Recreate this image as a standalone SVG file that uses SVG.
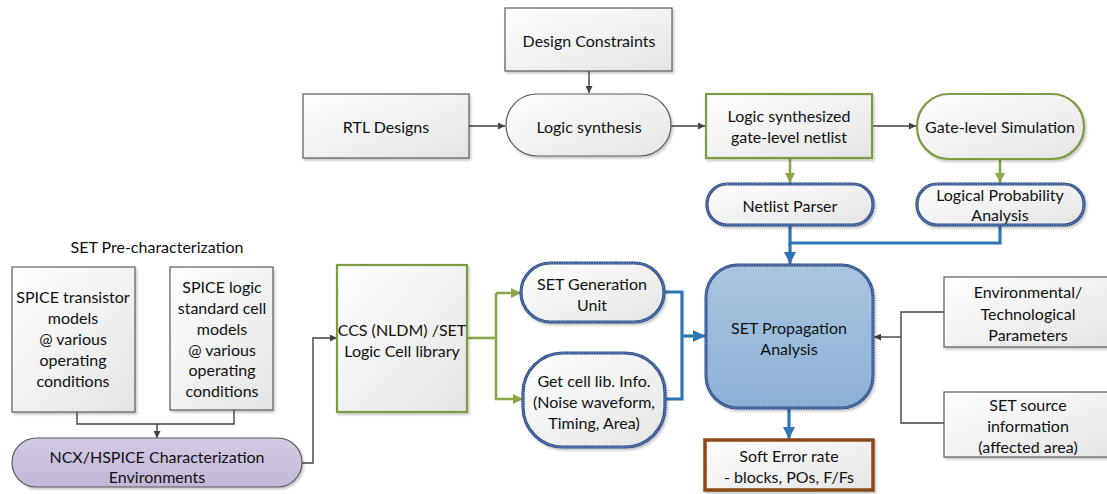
<svg xmlns="http://www.w3.org/2000/svg" width="1107" height="494" viewBox="0 0 1107 494">
  <defs>
    <linearGradient id="grayFill" x1="0" y1="0" x2="1" y2="1">
      <stop offset="0" stop-color="#ffffff"/>
      <stop offset="1" stop-color="#e4e4e4"/>
    </linearGradient>
    <linearGradient id="blueFill" x1="0" y1="0" x2="0" y2="1">
      <stop offset="0" stop-color="#a9c5e0"/>
      <stop offset="1" stop-color="#8cb1d6"/>
    </linearGradient>
    <linearGradient id="purpleFill" x1="0" y1="0" x2="0" y2="1">
      <stop offset="0" stop-color="#d3cae3"/>
      <stop offset="1" stop-color="#c3b7d8"/>
    </linearGradient>
    <filter id="shadow" x="-5%" y="-5%" width="115%" height="120%">
      <feDropShadow dx="1.5" dy="2" stdDeviation="1.2" flood-color="#000" flood-opacity="0.22"/>
    </filter>
    <marker id="arrGray" viewBox="0 0 10 10" refX="10" refY="5" markerWidth="7" markerHeight="7" markerUnits="userSpaceOnUse" orient="auto">
      <path d="M0,0 L10,5 L0,10 z" fill="#404040"/>
    </marker>
    <marker id="arrGreen" viewBox="0 0 10 10" refX="10" refY="5" markerWidth="10" markerHeight="10" markerUnits="userSpaceOnUse" orient="auto">
      <path d="M0,0 L10,5 L0,10 z" fill="#8aa84a"/>
    </marker>
    <marker id="arrBlue" viewBox="0 0 10 10" refX="10" refY="5" markerWidth="12" markerHeight="12" markerUnits="userSpaceOnUse" orient="auto">
      <path d="M0,0 L10,5 L0,10 z" fill="#2e75b6"/>
    </marker>
  </defs>
  <style>
    text { font-family: Lato, "Liberation Sans", sans-serif; font-size: 16px; fill: #111111; text-anchor: middle; dominant-baseline: central; }
    .box { fill: url(#grayFill); stroke: #5a5a5a; stroke-width: 1.2; filter: url(#shadow); }
    .green { fill: url(#grayFill); stroke: #7e9a44; stroke-width: 2.2; filter: url(#shadow); }
    .dotted { fill: url(#grayFill); stroke: #34558f; stroke-width: 3.2; filter: url(#shadow); }
    .dots { fill: none; stroke: #9fb4d8; stroke-width: 1; stroke-dasharray: 1 1.5; }
    .cg { fill: none; stroke: #404040; stroke-width: 1.4; }
    .cgr { fill: none; stroke: #8aa84a; stroke-width: 2.6; }
    .cb { fill: none; stroke: #2e75b6; stroke-width: 3.2; }
  </style>

  <!-- connectors -->
  <g id="connectors">
    <path class="cg" d="M589,71 V93" marker-end="url(#arrGray)"/>
    <path class="cg" d="M469,126 H505" marker-end="url(#arrGray)"/>
    <path class="cg" d="M671,126 H705" marker-end="url(#arrGray)"/>
    <path class="cg" d="M872,126 H916" marker-end="url(#arrGray)"/>
    <path class="cgr" d="M790,159 V183" marker-end="url(#arrGreen)"/>
    <path class="cgr" d="M1000,160 V183" marker-end="url(#arrGreen)"/>
    <path class="cb" d="M790,226 V243 H1000 V226"/>
    <path class="cb" d="M790,243 V264" marker-end="url(#arrBlue)"/>
    <path class="cb" d="M789,409 V439" marker-end="url(#arrBlue)"/>
    <path class="cg" d="M944,312 H901 V423 H944"/>
    <path class="cg" d="M901,337 H874" marker-end="url(#arrGray)"/>
    <path class="cb" d="M664,292 H682 V399 H665"/>
    <path class="cb" d="M682,336 H705" marker-end="url(#arrBlue)"/>
    <path class="cgr" d="M467,338 H496"/>
    <path class="cgr" d="M496,293 H521" marker-end="url(#arrGreen)"/>
    <path class="cgr" d="M496,293 V399 H523" marker-end="url(#arrGreen)"/>
    <path class="cg" d="M77,412 V424 H234 V410"/>
    <path class="cg" d="M157,424 V438" marker-end="url(#arrGray)"/>
    <path class="cg" d="M302,463 H313 V338 H337" marker-end="url(#arrGray)"/>
  </g>

  <!-- top flow -->
  <g id="design-constraints">
    <rect class="box" x="505" y="8" width="167" height="63"/>
    <text x="589" y="40">Design Constraints</text>
  </g>
  <g id="rtl-designs">
    <rect class="box" x="303" y="94" width="166" height="64"/>
    <text x="386" y="126">RTL Designs</text>
  </g>
  <g id="logic-synthesis">
    <rect class="box" x="506" y="94" width="165" height="62" rx="31"/>
    <text x="589" y="126">Logic synthesis</text>
  </g>
  <g id="netlist">
    <rect class="green" x="706" y="94" width="166" height="64"/>
    <text x="789" y="115">Logic synthesized</text>
    <text x="789" y="136">gate-level netlist</text>
  </g>
  <g id="gate-sim">
    <rect class="green" x="917" y="94" width="167" height="65" rx="32"/>
    <text x="1000" y="126">Gate-level Simulation</text>
  </g>
  <g id="netlist-parser">
    <rect class="dotted" x="707" y="184" width="166" height="41" rx="20"/>
    <rect class="dots" x="707" y="184" width="166" height="41" rx="20"/>
    <text x="790" y="205">Netlist Parser</text>
  </g>
  <g id="logical-probability">
    <rect class="dotted" x="917" y="184" width="167" height="41" rx="20"/>
    <rect class="dots" x="917" y="184" width="167" height="41" rx="20"/>
    <text x="1000" y="194">Logical Probability</text>
    <text x="1000" y="214">Analysis</text>
  </g>

  <!-- pre-characterization -->
  <g id="pre-char-title">
    <text x="157" y="246">SET Pre-characterization</text>
  </g>
  <g id="spice-transistor">
    <rect class="box" x="12" y="267" width="123" height="145"/>
    <text x="73" y="296">SPICE transistor</text>
    <text x="73" y="317">models</text>
    <text x="73" y="338">@ various</text>
    <text x="73" y="359">operating</text>
    <text x="73" y="380">conditions</text>
  </g>
  <g id="spice-logic">
    <rect class="box" x="170" y="267" width="103" height="143"/>
    <text x="222" y="286">SPICE logic</text>
    <text x="222" y="307">standard cell</text>
    <text x="222" y="328">models</text>
    <text x="222" y="349">@ various</text>
    <text x="222" y="369">operating</text>
    <text x="222" y="390">conditions</text>
  </g>
  <g id="ncx-env">
    <rect x="12" y="438" width="290" height="49" rx="24.5" fill="url(#purpleFill)" stroke="#5a5a5a" stroke-width="1.2" filter="url(#shadow)"/>
    <text x="157" y="456">NCX/HSPICE Characterization</text>
    <text x="157" y="476">Environments</text>
  </g>
  <g id="cell-library">
    <rect class="green" x="337" y="265" width="130" height="147"/>
    <text x="402" y="329">CCS (NLDM) /SET</text>
    <text x="402" y="350">Logic Cell library</text>
  </g>
  <g id="set-generation">
    <rect class="dotted" x="521" y="263" width="143" height="59" rx="29.5"/>
    <rect class="dots" x="521" y="263" width="143" height="59" rx="29.5"/>
    <text x="592" y="283">SET Generation</text>
    <text x="592" y="304">Unit</text>
  </g>
  <g id="cell-info">
    <rect class="dotted" x="523" y="353" width="142" height="94" rx="40"/>
    <rect class="dots" x="523" y="353" width="142" height="94" rx="40"/>
    <text x="594" y="380">Get cell lib. Info.</text>
    <text x="594" y="401">(Noise waveform,</text>
    <text x="594" y="422">Timing, Area)</text>
  </g>

  <!-- analysis -->
  <g id="set-propagation">
    <rect x="706" y="265" width="167" height="143" rx="32" fill="url(#blueFill)" stroke="#34558f" stroke-width="3" filter="url(#shadow)"/>
    <rect class="dots" x="706" y="265" width="167" height="143" rx="32"/>
    <text x="789" y="327">SET Propagation</text>
    <text x="789" y="348">Analysis</text>
  </g>
  <g id="soft-error">
    <rect x="705" y="440" width="168" height="50" fill="url(#grayFill)" stroke="#8a4a14" stroke-width="3.5" filter="url(#shadow)"/>
    <text x="789" y="455">Soft Error rate</text>
    <text x="789" y="476">- blocks, POs, F/Fs</text>
  </g>
  <g id="env-params">
    <rect class="box" x="944" y="277" width="170" height="70"/>
    <text x="1028" y="291">Environmental/</text>
    <text x="1028" y="313">Technological</text>
    <text x="1028" y="334">Parameters</text>
  </g>
  <g id="set-source">
    <rect class="box" x="944" y="392" width="170" height="65"/>
    <text x="1028" y="404">SET source</text>
    <text x="1028" y="425">information</text>
    <text x="1028" y="446">(affected area)</text>
  </g>
</svg>
